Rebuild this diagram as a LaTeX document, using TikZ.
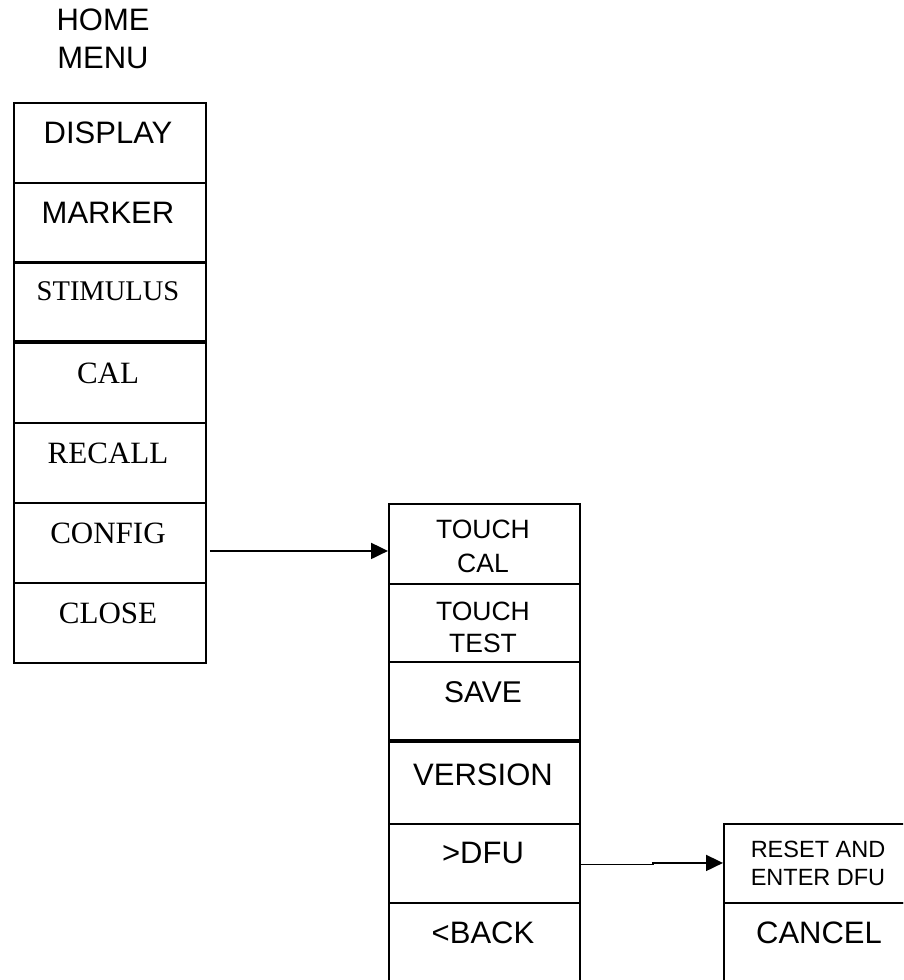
\documentclass[tikz,border=0pt]{standalone}
\usepackage{fontspec}
\setmainfont{Liberation Serif}
\newfontfamily\arialf{Liberation Sans}
\usetikzlibrary{arrows.meta}
\tikzset{
  cell/.style={draw, line width=1.9pt, inner sep=0pt, anchor=north west, minimum width=192pt, minimum height=80pt},
  sanslab/.style={font=\arialf\fontsize{31}{38}\selectfont, inner sep=0pt, anchor=base, align=center},
  seriflab/.style={font=\fontsize{31}{38}\selectfont, inner sep=0pt, anchor=base, align=center},
  thickline/.style={line width=3.5pt},
  conn/.style={line width=2pt, -{Triangle[length=17pt,width=16pt]}}
}
\begin{document}
\begin{tikzpicture}[x=1pt,y=-1pt]
\useasboundingbox (0,0) rectangle (903,980);
\clip (0,0) rectangle (903,980);
% title
\node[sanslab] (title) at (103,30) {HOME};
\node[sanslab] (title2) at (103,68) {MENU};
% left column
\node[cell] (display) at (13,102) {};
\node[cell] (marker) at (13,182) {};
\node[cell, minimum height=81pt] (stimulus) at (13,261) {};
\node[cell] (cal) at (13,342) {};
\node[cell] (recall) at (13,422) {};
\node[cell] (config) at (13,502) {};
\node[cell] (close) at (13,582) {};
\draw[thickline] (cal.north west) -- (cal.north east);
\node[sanslab] (tdisplay) at (108,143) {DISPLAY};
\node[sanslab] (tmarker) at (108,223) {MARKER};
\node[seriflab, font=\fontsize{28.5}{34}\selectfont] (tstim) at (108,300) {STIMULUS};
\node[seriflab] (tcal) at (108,383) {CAL};
\node[seriflab] (trecall) at (108,463) {RECALL};
\node[seriflab] (tconfig) at (108,543) {CONFIG};
\node[seriflab] (tclose) at (108,623) {CLOSE};
% middle column
\node[cell, minimum width=191pt] (touchcal) at (388,503) {};
\node[cell, minimum width=191pt, minimum height=78pt] (touchtest) at (388,583) {};
\node[cell, minimum width=191pt] (save) at (388,661) {};
\node[cell, minimum width=191pt, minimum height=82pt] (version) at (388,741) {};
\node[cell, minimum width=191pt, minimum height=79pt] (dfu) at (388,823) {};
\node[cell, minimum width=191pt, minimum height=100pt] (back) at (388,902) {};
\draw[thickline] (version.north west) -- (version.north east);
\node[sanslab, font=\arialf\fontsize{26.5}{34}\selectfont] (ttc1) at (483,538) {TOUCH};
\node[sanslab, font=\arialf\fontsize{26.5}{34}\selectfont] (ttc2) at (483,572) {CAL};
\node[sanslab, font=\arialf\fontsize{26.5}{34}\selectfont] (ttt1) at (483,620) {TOUCH};
\node[sanslab, font=\arialf\fontsize{26.5}{34}\selectfont] (ttt2) at (483,652) {TEST};
\node[sanslab, font=\arialf\fontsize{30}{36}\selectfont] (tsave) at (483,702) {SAVE};
\node[sanslab] (tversion) at (483,785) {VERSION};
\node[sanslab] (tdfu) at (483,863) {>DFU};
\node[sanslab] (tback) at (483,943) {<BACK};
% right column
\node[cell, minimum height=79pt] (reset) at (723,823) {};
\node[cell, minimum height=100pt] (cancel) at (723,902) {};
\node[sanslab, font=\arialf\fontsize{23.5}{28}\selectfont] (tr1) at (818,857) {RESET AND};
\node[sanslab, font=\arialf\fontsize{23.5}{28}\selectfont] (tr2) at (818,885) {ENTER DFU};
\node[sanslab] (tcancel) at (819,943) {CANCEL};
% connectors
\draw[conn] ([xshift=3pt,yshift=-8pt]config.east) -- ([yshift=-7pt]touchcal.west);
\draw[conn, line width=1.8pt] ([yshift=-1pt]dfu.east) -- ++(72,0) -- ++(0,-1.5) coordinate (jog) -- (jog -| reset.west);
\end{tikzpicture}
\end{document}
